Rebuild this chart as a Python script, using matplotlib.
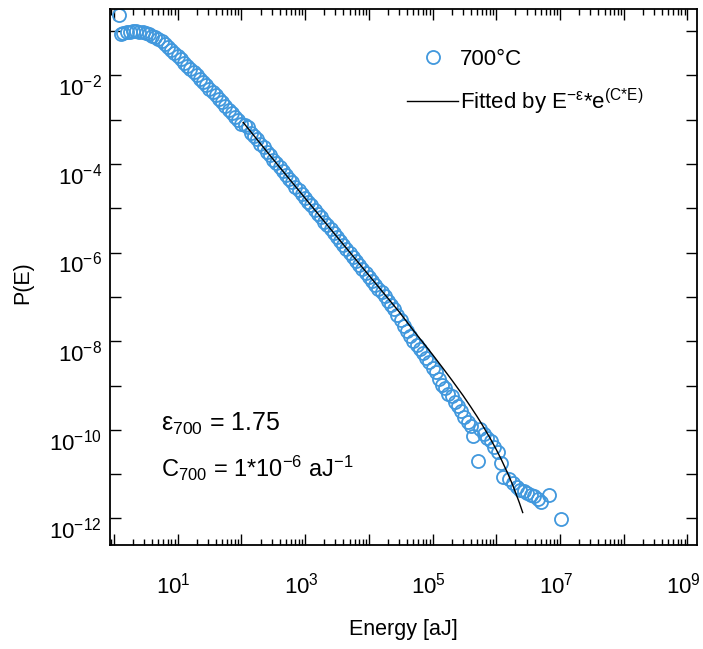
import numpy as np
import matplotlib
matplotlib.use('Agg')
import matplotlib.pyplot as plt
from matplotlib.lines import Line2D
from matplotlib.transforms import ScaledTranslation

plt.rcParams['font.family'] = ['Liberation Sans', 'DejaVu Sans']
plt.rcParams['mathtext.fontset'] = 'custom'
plt.rcParams['mathtext.rm'] = 'Liberation Sans'
plt.rcParams['mathtext.it'] = 'Liberation Sans:italic'
plt.rcParams['mathtext.bf'] = 'Liberation Sans:bold'

log_energy = [0.08, 0.12, 0.15, 0.20, 0.25, 0.30, 0.35, 0.40, 0.45, 0.50, 0.55, 0.60,
              0.65, 0.70, 0.75, 0.80, 0.85, 0.90, 0.95, 1.00, 1.05, 1.10, 1.15, 1.20,
              1.25, 1.30, 1.35, 1.40, 1.45, 1.50, 1.55, 1.60, 1.65, 1.70, 1.75, 1.80,
              1.85, 1.90, 1.95, 2.00, 2.05, 2.10, 2.15, 2.20, 2.25, 2.30, 2.35, 2.40,
              2.45, 2.50, 2.55, 2.60, 2.65, 2.70, 2.75, 2.80, 2.85, 2.90, 2.95, 3.00,
              3.05, 3.10, 3.15, 3.20, 3.25, 3.30, 3.35, 3.40, 3.45, 3.50, 3.55, 3.60,
              3.65, 3.70, 3.75, 3.80, 3.85, 3.90, 3.95, 4.00, 4.05, 4.10, 4.15, 4.20,
              4.25, 4.30, 4.35, 4.40, 4.45, 4.50, 4.55, 4.60, 4.65, 4.70, 4.75, 4.80,
              4.85, 4.90, 4.95, 5.00, 5.05, 5.10, 5.15, 5.20, 5.25, 5.30, 5.35, 5.40,
              5.45, 5.50, 5.55, 5.60, 5.64, 5.71, 5.75, 5.80, 5.85, 5.91, 5.96, 6.02,
              6.07, 6.10, 6.20, 6.27, 6.33, 6.38, 6.44, 6.49, 6.55, 6.59, 6.65, 6.70,
              6.82, 7.01]
log_prob = [-0.64, -1.07, -1.05, -1.03, -1.01, -1.00, -1.00, -1.01, -1.02, -1.04, -1.07, -1.10,
            -1.13, -1.17, -1.22, -1.29, -1.36, -1.42, -1.49, -1.56, -1.63, -1.71, -1.78, -1.85,
            -1.92, -2.00, -2.07, -2.15, -2.22, -2.30, -2.37, -2.45, -2.53, -2.61, -2.69, -2.77,
            -2.85, -2.93, -3.01, -3.09, -3.12, -3.17, -3.29, -3.37, -3.43, -3.55, -3.62, -3.72,
            -3.79, -3.90, -3.97, -4.07, -4.15, -4.24, -4.33, -4.40, -4.51, -4.59, -4.67, -4.77,
            -4.86, -4.93, -5.03, -5.12, -5.20, -5.30, -5.38, -5.47, -5.56, -5.65, -5.74, -5.83,
            -5.92, -6.00, -6.09, -6.18, -6.27, -6.36, -6.45, -6.54, -6.63, -6.72, -6.81, -6.90,
            -6.99, -7.09, -7.18, -7.28, -7.40, -7.52, -7.66, -7.78, -7.88, -8.00, -8.08, -8.18,
            -8.26, -8.38, -8.47, -8.60, -8.70, -8.86, -8.98, -9.06, -9.18, -9.24, -9.38, -9.46,
            -9.58, -9.70, -9.82, -9.92, -10.15, -10.71, -9.98, -10.10, -10.18, -10.26, -10.38, -10.51,
            -10.74, -11.07, -11.12, -11.19, -11.28, -11.35, -11.38, -11.42, -11.47, -11.50, -11.56, -11.62,
            -11.46, -12.02]

# fitted curve
fit_energy = [107, 300, 1e3, 3e3, 1e4, 3e4, 5e4, 1e5, 1.5e5, 2e5, 3e5, 4e5, 5e5, 6e5,
              8e5, 1e6, 1.2e6, 1.5e6, 1.8e6, 2e6, 2.3e6, 2.6e6]
fit_prob = [8.7e-4, 1.4e-4, 1.7e-5, 2.5e-6, 3.1e-7, 4.6e-8, 1.76e-8, 5.0e-9, 2.33e-9,
            1.34e-9, 6.0e-10, 3.26e-10, 2.0e-10, 1.31e-10, 6.5e-11, 3.6e-11, 2.14e-11,
            1.07e-11, 5.8e-12, 3.9e-12, 2.28e-12, 1.36e-12]

xticks = [10.0**k for k in range(0, 10)]
xtick_labels = ['', '$10^{1}$', '', '$10^{3}$', '', '$10^{5}$', '', '$10^{7}$', '', '$10^{9}$']
yticks = [10.0**-k for k in range(1, 13)]
ytick_labels = ['', '$10^{-2}$', '', '$10^{-4}$', '', '$10^{-6}$', '', '$10^{-8}$',
                '', '$10^{-10}$', '', '$10^{-12}$']

blue = '#4198dd'

fig = plt.figure(figsize=(7.03, 6.49), dpi=100)
ax = fig.add_axes([0.1565, 0.1602, 0.835, 0.826])

ax.plot(10 ** np.array(log_energy), 10 ** np.array(log_prob), 'o', ls='none',
        mfc='none', mec=blue, mew=1.3, ms=9.4)
ax.plot(fit_energy, fit_prob, color='black', lw=1.0)

ax.set_xscale('log')
ax.set_yscale('log')
ax.set_xlim(10 ** -0.06, 10 ** 9.15)
ax.set_ylim(10 ** -12.6, 10 ** -0.5)

ax.set_xticks(xticks)
ax.set_xticklabels(xtick_labels)
ax.set_yticks(yticks)
ax.set_yticklabels(ytick_labels)
ax.yaxis.set_minor_locator(matplotlib.ticker.NullLocator())
ax.xaxis.set_minor_locator(matplotlib.ticker.LogLocator(base=10, subs=np.arange(2, 10), numticks=20))
ax.xaxis.set_minor_formatter(matplotlib.ticker.NullFormatter())

ax.tick_params(which='both', direction='in', top=True, right=True, width=1.0, labelsize=16)
ax.tick_params(which='major', length=8)
ax.tick_params(which='minor', length=4)
ax.tick_params(axis='x', pad=20)
ax.tick_params(axis='y', pad=6)
for s in ax.spines.values():
    s.set_linewidth(1.3)

# tick labels sit a little off their ticks in the original
yshift = ScaledTranslation(0, -7 / 72, fig.dpi_scale_trans)
for lab in ax.get_yticklabels():
    lab.set_transform(lab.get_transform() + yshift)
xshift = ScaledTranslation(-4 / 100, 0, fig.dpi_scale_trans)
for lab in ax.get_xticklabels():
    lab.set_transform(lab.get_transform() + xshift)

ax.set_xlabel('Energy [aJ]', fontsize=15.5)
ax.xaxis.set_label_coords(0.5, -0.138)
ax.set_ylabel('P(E)', fontsize=15.5)
ax.yaxis.set_label_coords(-0.131, 0.49)

handles = [Line2D([], [], marker='o', ls='none', mfc='none', mec=blue, mew=1.3, ms=9.4),
           Line2D([], [], color='black', lw=1.0)]
labels = ['700°C', r'Fitted by E$^{-\mathrm{ε}}$*e$^{\mathrm{(C{*}E)}}$']
ax.legend(handles, labels, loc='upper left', bbox_to_anchor=(0.579, 0.925),
          bbox_transform=fig.transFigure, frameon=False, fontsize=16,
          handlelength=2.3, handletextpad=0.1, labelspacing=0.75, borderpad=0,
          borderaxespad=0)

ax.text(0.087, 0.213, 'ε$_{700}$ = 1.75', transform=ax.transAxes, fontsize=18, va='baseline')
ax.text(0.087, 0.127, 'C$_{700}$ = 1*10$^{-6}$ aJ$^{-1}$', transform=ax.transAxes,
        fontsize=17, va='baseline')

fig.savefig('out.png', dpi=100)
